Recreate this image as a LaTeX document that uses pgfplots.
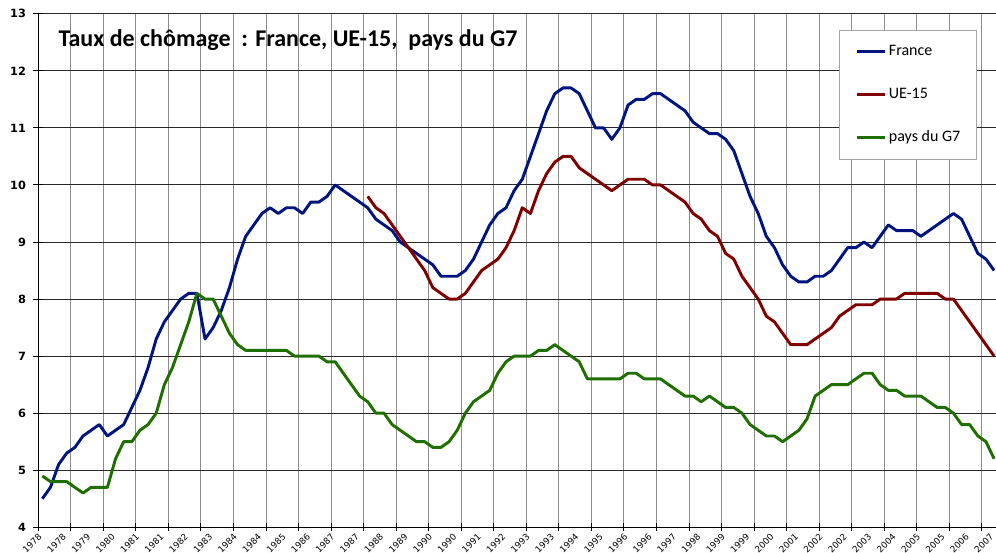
\documentclass[border=0pt]{standalone}
\usepackage{pgfplots}
\pgfplotsset{compat=1.18}
\usepackage{pgfplotstable}
\usepackage{fontspec}
\setmainfont{Carlito}
\newfontfamily\tickfont{DejaVu Sans}
\definecolor{frblue}{RGB}{0,20,128}
\definecolor{uered}{RGB}{128,0,0}
\definecolor{ggreen}{RGB}{30,110,0}
\definecolor{hgrid}{RGB}{40,40,40}
\definecolor{vgrid}{RGB}{140,140,140}
\definecolor{lgd}{RGB}{165,165,165}

\pgfplotstableread{
i fr ue g7
0 4.5 nan 4.9
1 4.7 nan 4.8
2 5.1 nan 4.8
3 5.3 nan 4.8
4 5.4 nan 4.7
5 5.6 nan 4.6
6 5.7 nan 4.7
7 5.8 nan 4.7
8 5.6 nan 4.7
9 5.7 nan 5.2
10 5.8 nan 5.5
11 6.1 nan 5.5
12 6.4 nan 5.7
13 6.8 nan 5.8
14 7.3 nan 6.0
15 7.6 nan 6.5
16 7.8 nan 6.8
17 8.0 nan 7.2
18 8.1 nan 7.6
19 8.1 nan 8.1
20 7.3 nan 8.0
21 7.5 nan 8.0
22 7.8 nan 7.7
23 8.2 nan 7.4
24 8.7 nan 7.2
25 9.1 nan 7.1
26 9.3 nan 7.1
27 9.5 nan 7.1
28 9.6 nan 7.1
29 9.5 nan 7.1
30 9.6 nan 7.1
31 9.6 nan 7.0
32 9.5 nan 7.0
33 9.7 nan 7.0
34 9.7 nan 7.0
35 9.8 nan 6.9
36 10.0 nan 6.9
37 9.9 nan 6.7
38 9.8 nan 6.5
39 9.7 nan 6.3
40 9.6 9.8 6.2
41 9.4 9.6 6.0
42 9.3 9.5 6.0
43 9.2 9.3 5.8
44 9.0 9.1 5.7
45 8.9 8.9 5.6
46 8.8 8.7 5.5
47 8.7 8.5 5.5
48 8.6 8.2 5.4
49 8.4 8.1 5.4
50 8.4 8.0 5.5
51 8.4 8.0 5.7
52 8.5 8.1 6.0
53 8.7 8.3 6.2
54 9.0 8.5 6.3
55 9.3 8.6 6.4
56 9.5 8.7 6.7
57 9.6 8.9 6.9
58 9.9 9.2 7.0
59 10.1 9.6 7.0
60 10.5 9.5 7.0
61 10.9 9.9 7.1
62 11.3 10.2 7.1
63 11.6 10.4 7.2
64 11.7 10.5 7.1
65 11.7 10.5 7.0
66 11.6 10.3 6.9
67 11.3 10.2 6.6
68 11.0 10.1 6.6
69 11.0 10.0 6.6
70 10.8 9.9 6.6
71 11.0 10.0 6.6
72 11.4 10.1 6.7
73 11.5 10.1 6.7
74 11.5 10.1 6.6
75 11.6 10.0 6.6
76 11.6 10.0 6.6
77 11.5 9.9 6.5
78 11.4 9.8 6.4
79 11.3 9.7 6.3
80 11.1 9.5 6.3
81 11.0 9.4 6.2
82 10.9 9.2 6.3
83 10.9 9.1 6.2
84 10.8 8.8 6.1
85 10.6 8.7 6.1
86 10.2 8.4 6.0
87 9.8 8.2 5.8
88 9.5 8.0 5.7
89 9.1 7.7 5.6
90 8.9 7.6 5.6
91 8.6 7.4 5.5
92 8.4 7.2 5.6
93 8.3 7.2 5.7
94 8.3 7.2 5.9
95 8.4 7.3 6.3
96 8.4 7.4 6.4
97 8.5 7.5 6.5
98 8.7 7.7 6.5
99 8.9 7.8 6.5
100 8.9 7.9 6.6
101 9.0 7.9 6.7
102 8.9 7.9 6.7
103 9.1 8.0 6.5
104 9.3 8.0 6.4
105 9.2 8.0 6.4
106 9.2 8.1 6.3
107 9.2 8.1 6.3
108 9.1 8.1 6.3
109 9.2 8.1 6.2
110 9.3 8.1 6.1
111 9.4 8.0 6.1
112 9.5 8.0 6.0
113 9.4 7.8 5.8
114 9.1 7.6 5.8
115 8.8 7.4 5.6
116 8.7 7.2 5.5
117 8.5 7.0 5.2
}\data

\begin{document}
\begin{tikzpicture}
\begin{axis}[
  scale only axis,
  width=718.4pt, height=385.1pt,
  xmin=-0.5, xmax=117.25, ymin=4, ymax=13,
  axis x line=bottom, axis y line=left,
  axis line style={-, black, line width=0.75pt},
  tick align=center,
  major tick length=7.5pt, minor tick length=6pt,
  xtick={0,3,...,117},
  xticklabels={1978,1978,1979,1980,1981,1981,1982,1983,1984,1984,1985,1986,1987,1987,1988,1989,1990,1990,1991,1992,1993,1993,1994,1995,1996,1996,1997,1998,1999,1999,2000,2001,2002,2002,2003,2004,2005,2005,2006,2007},
  major x tick style={draw=none},
  minor xtick={-0.5,3.5,...,115.5},
  minor x tick style={black, line width=0.75pt},
  xminorgrids,
  minor x grid style={vgrid, line width=0.75pt},
  ytick={4,5,...,13},
  major y tick style={black, line width=0.75pt},
  ymajorgrids,
  major y grid style={hgrid, line width=0.75pt},
  /pgf/number format/assume math mode=true,
  yticklabel style={font=\tickfont\bfseries\fontsize{8.5}{10}\selectfont, xshift=-2pt},
  xticklabel style={font=\tickfont\fontsize{6.6}{8}\selectfont, xshift=-3.5pt, yshift=1pt, rotate=45, anchor=north east, inner sep=1pt},
  legend style={at={(rel axis cs:0.836,0.9685)}, anchor=north west,
     draw=lgd, line width=0.75pt, fill=white,
     font=\fontsize{12}{14}\selectfont,
     inner xsep=11.8pt, inner ysep=10pt,
     row sep=20.25pt, column sep=2.25pt,
     nodes={inner sep=0pt, text height=9pt, text depth=3pt}},
  legend cell align=left,
  legend image code/.code={\draw[#1, line width=2pt] (0pt,0pt) -- (21pt,0pt);},
  every axis plot/.append style={line width=2.2pt, line join=round, no markers},
]
\addplot[frblue] table[x=i, y=fr] {\data};
\addlegendentry{France}
\addplot[uered] table[x=i, y=ue] {\data};
\addlegendentry{UE-15}
\addplot[ggreen] table[x=i, y=g7] {\data};
\addlegendentry{pays du G7}
\node[anchor=base west, font=\bfseries\fontsize{18}{20}\selectfont, inner sep=0pt] at (rel axis cs:0.0209,0.936) {Taux de chômage\ \ : France, UE-15,\ \ pays du G7};
\end{axis}
\pgfresetboundingbox
\path ([shift={(-28.7pt,-19.3pt)}]current axis.south west) rectangle ++(747pt,414.75pt);
\end{tikzpicture}
\end{document}
